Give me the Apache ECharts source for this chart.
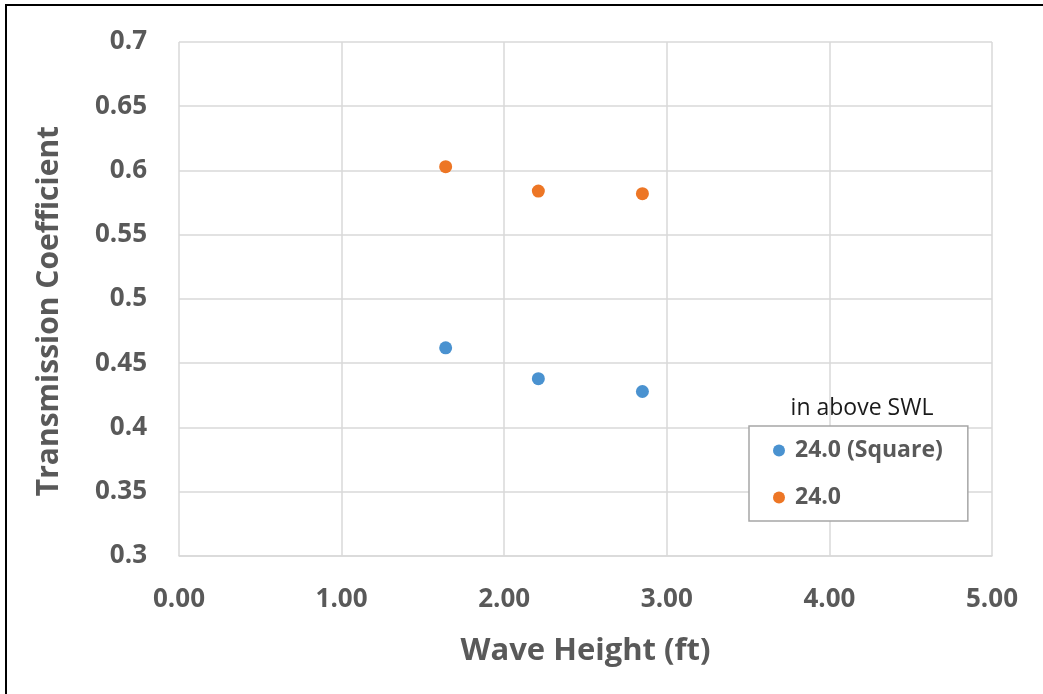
<!DOCTYPE html>
<html>
<head>
<meta charset="utf-8">
<script src="https://cdn.jsdelivr.net/npm/echarts@6/dist/echarts.min.js"></script>
<style>html,body{margin:0;padding:0;background:#fff;}#c{width:1043px;height:694px;}</style>
</head>
<body>
<div id="c"></div>
<script>
const seriesNames = ['24.0 (Square)', '24.0'];
const waveHeight = [1.64, 2.21, 2.85];
const squareKt = [0.462, 0.438, 0.428];
const roundKt = [0.603, 0.584, 0.582];
const xTicks = ['0.00','1.00','2.00','3.00','4.00','5.00'];
const yTicks = ['0.3','0.35','0.4','0.45','0.5','0.55','0.6','0.65','0.7'];
const xTitle = 'Wave Height (ft)';
const yTitle = 'Transmission Coefficient';
const legendTitle = 'in above SWL';

const font = '"Open Sans", "Noto Sans", sans-serif';
const chart = echarts.init(document.getElementById('c'), null, {renderer: 'canvas'});
chart.setOption({
  animation: false,
  backgroundColor: '#fff',
  grid: {left: 179, top: 42, right: 51, bottom: 138, containLabel: false},
  xAxis: {
    type: 'value', min: 0, max: 5, interval: 1,
    name: xTitle, nameLocation: 'middle', nameGap: 80,
    nameTextStyle: {fontFamily: font, fontSize: 31, fontWeight: 'bold', color: '#595959'},
    axisLine: {show: true, lineStyle: {color: '#d9d9d9', width: 1.5}},
    axisTick: {show: false},
    splitLine: {show: true, lineStyle: {color: '#d9d9d9', width: 1.5}},
    axisLabel: {fontFamily: font, fontSize: 26, fontWeight: 'bold', color: '#595959', margin: 31,
      formatter: v => xTicks[Math.round(v)]}
  },
  yAxis: {
    type: 'value', min: 0.3, max: 0.7, interval: 0.05,
    axisLine: {show: false},
    axisTick: {show: false},
    splitLine: {show: true, lineStyle: {color: '#d9d9d9', width: 1.5}},
    axisLabel: {fontFamily: font, fontSize: 26, fontWeight: 'bold', color: '#595959', margin: 32,
      formatter: v => yTicks[Math.round((v - 0.3) / 0.05)]}
  },
  legend: {
    orient: 'vertical', left: 749, top: 426,
    padding: [13, 25, 12, 24], itemGap: 24,
    itemWidth: 12, itemHeight: 12, icon: 'circle',
    borderColor: '#a6a6a6', borderWidth: 1.5, backgroundColor: '#fff',
    textStyle: {fontFamily: font, fontSize: 23, fontWeight: 'bold', color: '#595959', padding: [0, 0, 0, 5]},
    data: seriesNames
  },
  graphic: [
    {type: 'text', x: 862, y: 408, style: {text: legendTitle, font: '23px "Open Sans", sans-serif', fill: '#1a1a1a', align: 'center', verticalAlign: 'middle'}},
    {type: 'text', x: 49, y: 311, rotation: Math.PI / 2, style: {text: yTitle, font: 'bold 30px "Open Sans", sans-serif', fill: '#595959', align: 'center', verticalAlign: 'middle'}},
    {type: 'rect', shape: {x: 5, y: 4, width: 1040, height: 2}, style: {fill: '#000'}},
    {type: 'rect', shape: {x: 5, y: 4, width: 2, height: 700}, style: {fill: '#000'}}
  ],
  series: [
    {name: seriesNames[0], type: 'scatter', symbolSize: 13, itemStyle: {color: '#4a92d0', opacity: 1},
      data: waveHeight.map((x, i) => [x, squareKt[i]])},
    {name: seriesNames[1], type: 'scatter', symbolSize: 13, itemStyle: {color: '#ed7625', opacity: 1},
      data: waveHeight.map((x, i) => [x, roundKt[i]])}
  ]
});
</script>
</body>
</html>
